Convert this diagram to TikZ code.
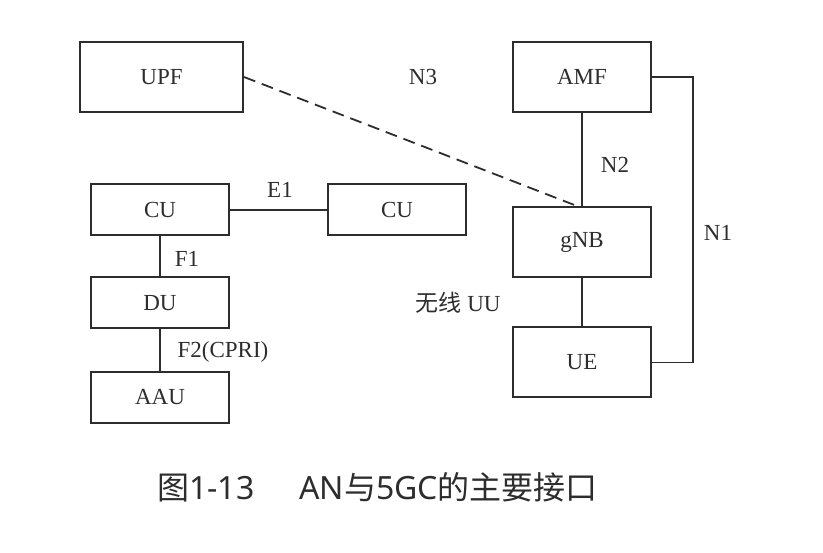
\documentclass[tikz,border=0pt]{standalone}
\usepackage{fontspec}
\setmainfont{Liberation Serif}
\newfontfamily\cjk{Noto Sans CJK SC}
\newfontfamily\capfont{Noto Sans}
\definecolor{dgrey}{RGB}{45,45,45}

\begin{document}
\begin{tikzpicture}[x=1pt,y=-1pt,-,draw=dgrey,line width=1.8pt]
      \tikzstyle{every node}=[font=\fontsize{23}{26}\selectfont,text=dgrey]
      \tikzstyle{box}=[draw=dgrey,line width=2pt,inner sep=0pt,minimum width=138pt,minimum height=70pt]
      \tikzstyle{lowbox}=[box,minimum height=51pt]
      \useasboundingbox (0,0) rectangle (823,553);
      % core side
      \node [box,minimum width=163pt] (upf) at (161.5,77) {UPF};
      \node [box] (amf) at (582,77) {AMF};
      \node [box] (gnb) at (582,242) {gNB};
      \node [box] (ue) at (582,362.5) {UE};
      % split gNB
      \node [lowbox] (cul) at (160,210) {CU};
      \node [lowbox] (cur) at (397,210) {CU};
      \node [lowbox] (du) at (160,303) {DU};
      \node [lowbox] (aau) at (160,397.5) {AAU};
      % links
      \draw [dashed,dash pattern=on 12pt off 7pt] (upf.east) -- ([xshift=-5pt]gnb.north);
      \draw (amf) -- (gnb);
      \draw (gnb) -- (ue);
      \draw (amf.east) -- ++(41,0) |- (ue.east);
      \draw (cul) -- (cur);
      \draw (cul) -- (du);
      \draw (du) -- (aau);
      % labels
      \node (n3) at (423,77) {N3};
      \node (n2) at (615,165) {N2};
      \node (n1) at (718,233) {N1};
      \node (uu) at (458,303) {{\cjk 无线} UU};
      \node (e1) at (280,190) {E1};
      \node (f1) at (187,259) {F1};
      \node (f2) at (223,352) {F2(CPRI)};
      \node [font=\fontsize{32}{36}\capfont] (cap) at (377.5,487) {{\cjk 图}1-13\hspace{45pt}AN{\cjk 与}5GC{\cjk 的主要接口}};
\end{tikzpicture}
\end{document}
